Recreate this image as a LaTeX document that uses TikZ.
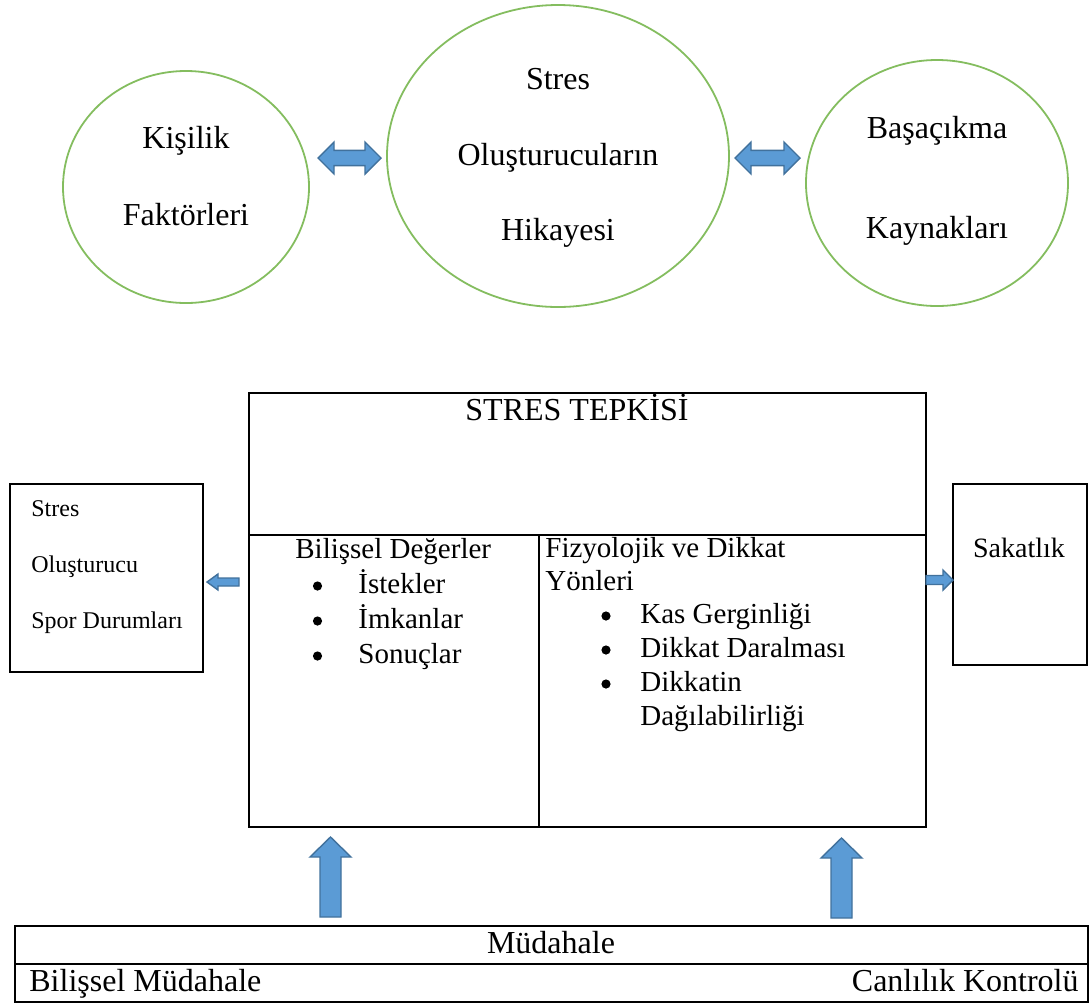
\documentclass[tikz,border=0pt]{standalone}
\usepackage{fontspec}
\setmainfont{Liberation Serif}
\usetikzlibrary{shapes.geometric,positioning,calc}

\definecolor{ringgreen}{HTML}{84BD5F}
\definecolor{blkfill}{HTML}{5B9BD5}
\definecolor{blkedge}{HTML}{41719C}

% block arrow: tail, tip, half shaft, half head, head length
\newcommand{\singlearr}[5]{%
  \coordinate (hb) at ($(#2)!#5!(#1)$);
  \draw[blk] ($(#1)!#3!90:(#2)$) -- ($(hb)!#3!-90:(#1)$) -- ($(hb)!#4!-90:(#1)$) -- (#2)
    -- ($(hb)!#4!90:(#1)$) -- ($(hb)!#3!90:(#1)$) -- ($(#1)!#3!-90:(#2)$) -- cycle;}
% block arrow with two heads: end a, end b, half shaft, half head, head length
\newcommand{\doublearr}[5]{%
  \coordinate (ha) at ($(#1)!#5!(#2)$);
  \coordinate (hb) at ($(#2)!#5!(#1)$);
  \draw[blk] (#1) -- ($(ha)!#4!90:(#2)$) -- ($(ha)!#3!90:(#2)$) -- ($(hb)!#3!-90:(#1)$)
    -- ($(hb)!#4!-90:(#1)$) -- (#2) -- ($(hb)!#4!90:(#1)$) -- ($(hb)!#3!90:(#1)$)
    -- ($(ha)!#3!-90:(#2)$) -- ($(ha)!#4!-90:(#2)$) -- cycle;}

\begin{document}
\begin{tikzpicture}[x=0.5pt,y=-0.5pt,
  ring/.style={draw=ringgreen,line width=0.9pt,ellipse,inner sep=0pt},
  ringtext/.style={align=center,inner sep=0pt,font=\fontsize{16pt}{19pt}\selectfont},
  cell/.style={draw,line width=1pt,inner sep=0pt,anchor=north west},
  txt/.style={inner sep=0pt,anchor=base west,font=\fontsize{14.5pt}{17pt}\selectfont},
  dot/.style={circle,fill,inner sep=0pt,minimum size=4.6pt},
  small/.style={inner sep=0pt,anchor=base west,font=\fontsize{12pt}{14pt}\selectfont},
  big/.style={inner sep=0pt,font=\fontsize{16pt}{19pt}\selectfont},
  blk/.style={fill=blkfill,draw=blkedge,line width=0.7pt,line join=miter}]
\useasboundingbox (0,0) rectangle (1089,1003);

% top: three ellipses
\node[ring,minimum width=123pt,minimum height=116pt] (kisilik) at (186,187) {};
\node[ring,minimum width=171pt,minimum height=151pt] (stresoy) at (558,156) {};
\node[ring,minimum width=131pt,minimum height=123pt] (basa) at (937,183) {};
\node[ringtext] (kisilik-t) at (186,176.5) {Kişilik\\[19.5pt]Faktörleri};
\node[ringtext] (stresoy-t) at (558,158) {Stres\\[18.75pt]Oluşturucuların\\[18.75pt]Hikayesi};
\node[ringtext] (basa-t) at (937,181) {Başaçıkma\\[31pt]Kaynakları};
\coordinate (d1a) at (318,158); \coordinate (d1b) at (381,158);
\coordinate (d2a) at (735,158); \coordinate (d2b) at (800,158);
\doublearr{d1a}{d1b}{3.8pt}{8pt}{8pt}
\doublearr{d2a}{d2b}{3.8pt}{8pt}{8pt}

% stress response box
\node[cell,minimum width=338.5pt,minimum height=71pt] (tepki) at (248,392) {};
\node[cell,minimum width=145pt,minimum height=146pt] (bilissel) at (248,534) {};
\node[cell,minimum width=193.5pt,minimum height=146pt] (fizyo) at (538,534) {};
\node[big,anchor=base] (tepki-t) at (577,420) {STRES TEPKİSİ};

\node[txt] (bil-h) at (295,558) {Bilişsel Değerler};
\node[dot] (bil-b1) at (317.5,586) {}; \node[txt] (bil-1) at (358,593) {İstekler};
\node[dot] (bil-b2) at (317.5,621) {}; \node[txt] (bil-2) at (358,628) {İmkanlar};
\node[dot] (bil-b3) at (317.5,656) {}; \node[txt] (bil-3) at (358,663) {Sonuçlar};

\node[txt] (fiz-h1) at (545,557) {Fizyolojik ve Dikkat};
\node[txt] (fiz-h2) at (545,590) {Yönleri};
\node[dot] (fiz-b1) at (606,616) {}; \node[txt] (fiz-1) at (640,623) {Kas Gerginliği};
\node[dot] (fiz-b2) at (606,650) {}; \node[txt] (fiz-2) at (640,657) {Dikkat Daralması};
\node[dot] (fiz-b3) at (606,684) {}; \node[txt] (fiz-3) at (640,691) {Dikkatin};
\node[txt] (fiz-4) at (640,725) {Dağılabilirliği};

% side boxes
\node[cell,minimum width=96.5pt,minimum height=94pt] (spor) at (9,483) {};
\node[small] (spor-1) at (31,516) {Stres};
\node[small] (spor-2) at (31,572) {Oluşturucu};
\node[small] (spor-3) at (31,628) {Spor Durumları};
\node[cell,minimum width=67pt,minimum height=90.5pt] (sakat) at (952,483) {};
\node[inner sep=0pt,anchor=base,font=\fontsize{14pt}{17pt}\selectfont] (sakat-t) at (1019,557) {Sakatlık};
\coordinate (l1a) at (239,582); \coordinate (l1b) at (207,582);
\coordinate (r1a) at (926,580); \coordinate (r1b) at (953,580);
\singlearr{l1a}{l1b}{2pt}{4pt}{5.5pt}
\singlearr{r1a}{r1b}{2.25pt}{5pt}{5pt}

% intervention table
\node[cell,minimum width=536.5pt,minimum height=19pt] (mudahale) at (14,925) {};
\node[cell,minimum width=536.5pt,minimum height=19pt] (turler) at (14,963) {};
\node[big,anchor=base] (mudahale-t) at (551,953) {Müdahale};
\node[big,anchor=base west] (turler-1) at (29,991) {Bilişsel Müdahale};
\node[big,anchor=base east] (turler-2) at (1079,991) {Canlılık Kontrolü};
\coordinate (u1a) at (330.5,917); \coordinate (u1b) at (330.5,837);
\coordinate (u2a) at (841.5,918); \coordinate (u2b) at (841.5,838);
\singlearr{u1a}{u1b}{5.25pt}{10.25pt}{10pt}
\singlearr{u2a}{u2b}{5.25pt}{10.25pt}{10pt}
\end{tikzpicture}
\end{document}
